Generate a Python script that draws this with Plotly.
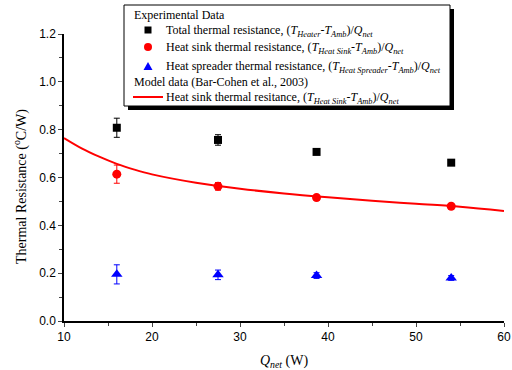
import plotly.graph_objects as go

# ---- data ----
q_net = [16.0, 27.5, 38.7, 54.0]
total_r = [0.808, 0.757, 0.707, 0.662]
total_err = [0.040, 0.022, 0.010, 0.008]
sink_r = [0.614, 0.563, 0.516, 0.480]
sink_err = [0.038, 0.016, 0.010, 0.008]
spreader_r = [0.195, 0.193, 0.190, 0.180]
spreader_err = [0.040, 0.020, 0.012, 0.010]

model_q = [10, 12, 14, 16, 18, 20, 25, 30, 35, 40, 45, 50, 55, 60]
model_r = [0.765, 0.722, 0.687, 0.657, 0.633, 0.613, 0.578, 0.553, 0.533, 0.517, 0.503, 0.490, 0.478, 0.460]

x_ticks = [10, 20, 30, 40, 50, 60]
y_ticks = [0.0, 0.2, 0.4, 0.6, 0.8, 1.0, 1.2]

legend_header_exp = "Experimental Data"
legend_header_model = "Model data (Bar-Cohen et al., 2003)"
y_title = "Thermal Resistance (<sup>o</sup>C/W)"

serif = "Liberation Serif, Times New Roman, serif"
sans = "Liberation Sans, Arial, sans-serif"

def sub(s):
    return "<sub><i>" + s + "</i></sub>"

x_title = "<i>Q</i>" + sub("net") + " (W)"
name_total = "Total thermal resistance, (<i>T</i>" + sub("Heater") + "-<i>T</i>" + sub("Amb") + ")/<i>Q</i>" + sub("net")
name_sink = "Heat sink thermal resistance, (<i>T</i>" + sub("Heat Sink") + "-<i>T</i>" + sub("Amb") + ")/<i>Q</i>" + sub("net")
name_spread = "Heat spreader thermal resistance, (<i>T</i>" + sub("Heat Spreader") + "-<i>T</i>" + sub("Amb") + ")/<i>Q</i>" + sub("net")
name_model = "Heat sink thermal resitance, (<i>T</i>" + sub("Heat Sink") + "-<i>T</i>" + sub("Amb") + ")/<i>Q</i>" + sub("net")

W, H = 512, 370
ML, MR, MT, MB = 64, 8, 34, 49
PW, PH = W - ML - MR, H - MT - MB

def px(x):
    return (x - ML) / PW

def py(y):
    return (H - MB - y) / PH

fig = go.Figure()
fig.add_trace(go.Scatter(
    x=q_net, y=total_r, mode="markers", name=name_total,
    marker=dict(symbol="square", size=8, color="black"),
    error_y=dict(type="data", array=total_err, color="black", thickness=1, width=3),
))
fig.add_trace(go.Scatter(
    x=q_net, y=sink_r, mode="markers", name=name_sink,
    marker=dict(symbol="circle", size=9, color="red"),
    error_y=dict(type="data", array=sink_err, color="red", thickness=1, width=3),
))
fig.add_trace(go.Scatter(
    x=q_net, y=spreader_r, mode="markers", name=name_spread,
    marker=dict(symbol="triangle-up", size=10, color="blue"),
    error_y=dict(type="data", array=spreader_err, color="blue", thickness=1, width=3),
))
fig.add_trace(go.Scatter(
    x=model_q, y=model_r, mode="lines", name=name_model,
    line=dict(color="red", width=2, shape="spline"),
))

# ---- hand-built legend (box with drop shadow, group headers) ----
shapes = [
    dict(type="rect", xref="paper", yref="paper", x0=px(128), x1=px(454), y0=py(110), y1=py(9),
         fillcolor="black", line=dict(width=0)),
    dict(type="rect", xref="paper", yref="paper", x0=px(124), x1=px(450), y0=py(106), y1=py(5),
         fillcolor="white", line=dict(color="black", width=1)),
    dict(type="rect", xref="paper", yref="paper", x0=px(144.5), x1=px(151.5), y0=py(33.5), y1=py(26.5),
         fillcolor="black", line=dict(width=0)),
    dict(type="circle", xref="paper", yref="paper", x0=px(144), x1=px(152), y0=py(51), y1=py(43),
         fillcolor="red", line=dict(width=0)),
    dict(type="path", xref="paper", yref="paper",
         path="M {} {} L {} {} L {} {} Z".format(px(143.5), py(70), px(152.5), py(70), px(148), py(62)),
         fillcolor="blue", line=dict(width=0)),
    dict(type="line", xref="paper", yref="paper", x0=px(133), x1=px(163), y0=py(97), y1=py(97),
         line=dict(color="red", width=2)),
]

annotations = []
def add_text(text, x, y, size=12, angle=0, xanchor="left"):
    annotations.append(dict(text=text, x=px(x), y=py(y), xref="paper", yref="paper",
                            xanchor=xanchor, yanchor="middle", showarrow=False, textangle=angle,
                            font=dict(family=serif, size=size, color="black")))

add_text(legend_header_exp, 132, 15)
add_text(name_total, 164, 31)
add_text(name_sink, 164, 48)
add_text(name_spread, 164, 67)
add_text(legend_header_model, 132, 82)
add_text(name_model, 164, 98)
add_text(y_title, 20, 187, size=14, angle=-90, xanchor="center")

fig.update_layout(
    width=W, height=H,
    margin=dict(l=ML, r=MR, t=MT, b=MB, autoexpand=False),
    paper_bgcolor="white", plot_bgcolor="white",
    showlegend=False,
    shapes=shapes,
    annotations=annotations,
    xaxis=dict(
        range=[10, 60], tickvals=x_ticks, ticks="outside", ticklen=4, tickwidth=1, automargin=False,
        showline=True, linecolor="black", linewidth=1.5, showgrid=False, zeroline=False,
        tickfont=dict(family=sans, size=12, color="black"),
        minor=dict(ticks="outside", ticklen=3, dtick=5, tick0=10, showgrid=False),
        title=dict(text=x_title, font=dict(family=serif, size=14, color="black")),
    ),
    yaxis=dict(
        range=[0, 1.2], tickvals=y_ticks, tickformat=".1f", ticks="outside", ticklen=4, tickwidth=1,
        automargin=False,
        showline=True, linecolor="black", linewidth=1.5, showgrid=False, zeroline=False,
        tickfont=dict(family=sans, size=12, color="black"),
        minor=dict(ticks="outside", ticklen=3, dtick=0.1, tick0=0, showgrid=False),
    ),
)

fig.write_html("out.html")
